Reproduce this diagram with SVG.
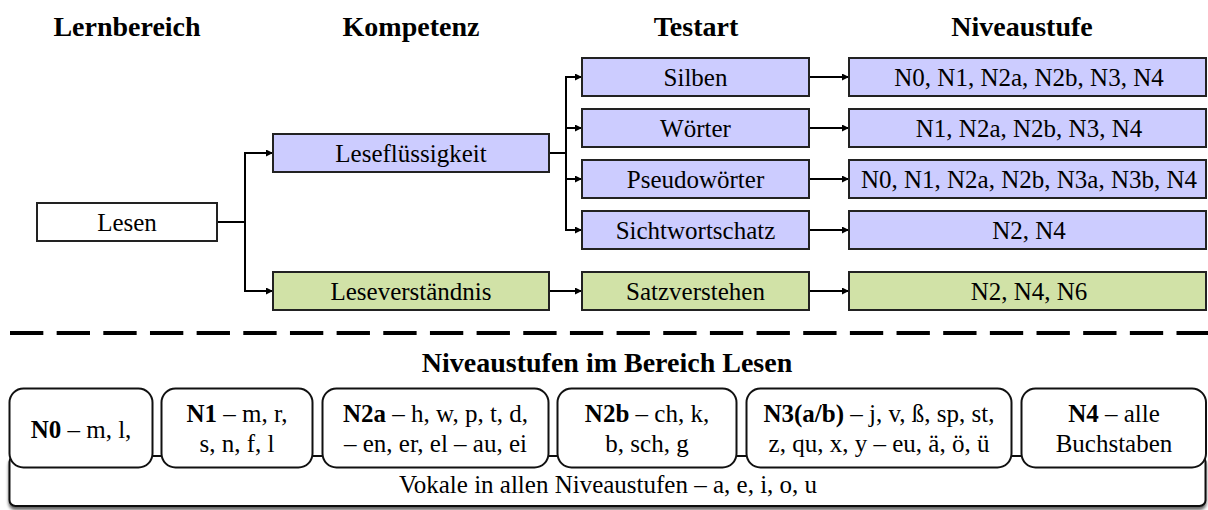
<svg xmlns="http://www.w3.org/2000/svg" width="1208" height="510" viewBox="0 0 1208 510">
<style>
text{font-family:'Liberation Serif','Times New Roman',serif}
.hd{font-size:28px;font-weight:bold;fill:#000;text-anchor:middle}
.t{font-size:25px;fill:#000;text-anchor:middle}
.b{font-weight:bold}
.box{stroke:#222;stroke-width:2}
.w{fill:#fff}
.p{fill:#CCCCFF}
.g{fill:#D1E2A7}
.rb{fill:#fff;stroke:#111;stroke-width:2}
.cn{fill:none;stroke:#000;stroke-width:2}
</style>
<defs>
<marker id="ah" viewBox="0 0 10 10" refX="10" refY="5" markerWidth="8" markerHeight="7" markerUnits="userSpaceOnUse" orient="auto">
<path d="M0,0 L10,5 L0,10 z" fill="#000"/>
</marker>
<filter id="sh" x="-2%" y="-20%" width="104%" height="160%">
<feGaussianBlur in="SourceAlpha" stdDeviation="1.5"/>
<feOffset dx="0" dy="2.5" result="o"/>
<feComponentTransfer><feFuncA type="linear" slope="0.6"/></feComponentTransfer>
<feMerge><feMergeNode/><feMergeNode in="SourceGraphic"/></feMerge>
</filter>
</defs>
<rect width="1208" height="510" fill="#fff"/>
<g id="headers">
<text class="hd" x="127" y="36" font-family="Liberation Serif">Lernbereich</text>
<text class="hd" x="411" y="36" font-family="Liberation Serif">Kompetenz</text>
<text class="hd" x="696" y="36" font-family="Liberation Serif">Testart</text>
<text class="hd" x="1022" y="36" font-family="Liberation Serif">Niveaustufe</text>
</g>
<g id="connectors">
<polyline class="cn" points="217,222 245,222"/>
<polyline class="cn" points="245,222 245,153 273,153" marker-end="url(#ah)"/>
<polyline class="cn" points="245,222 245,291 273,291" marker-end="url(#ah)"/>
<polyline class="cn" points="549,153 566,153"/>
<polyline class="cn" points="566,153 566,77 582,77" marker-end="url(#ah)"/>
<polyline class="cn" points="566,153 566,128 582,128" marker-end="url(#ah)"/>
<polyline class="cn" points="566,153 566,179 582,179" marker-end="url(#ah)"/>
<polyline class="cn" points="566,153 566,230 582,230" marker-end="url(#ah)"/>
<polyline class="cn" points="549,291 582,291" marker-end="url(#ah)"/>
<polyline class="cn" points="809,77 849,77" marker-end="url(#ah)"/>
<polyline class="cn" points="809,128 849,128" marker-end="url(#ah)"/>
<polyline class="cn" points="809,179 849,179" marker-end="url(#ah)"/>
<polyline class="cn" points="809,230 849,230" marker-end="url(#ah)"/>
<polyline class="cn" points="809,291 849,291" marker-end="url(#ah)"/>
</g>
<g id="lesen"><rect class="box w" x="37" y="203" width="180" height="38"/><text class="t" font-family="Liberation Serif" x="127" y="230.5">Lesen</text></g>
<g id="lesefluessigkeit"><rect class="box p" x="273" y="134" width="276" height="38"/><text class="t" font-family="Liberation Serif" x="411" y="161.5">Leseflüssigkeit</text></g>
<g id="leseverstaendnis"><rect class="box g" x="273" y="272" width="276" height="38"/><text class="t" font-family="Liberation Serif" x="411" y="299.5">Leseverständnis</text></g>
<g id="silben"><rect class="box p" x="582" y="58" width="227" height="38"/><text class="t" font-family="Liberation Serif" x="695.5" y="85.5">Silben</text></g>
<g id="woerter"><rect class="box p" x="582" y="109" width="227" height="38"/><text class="t" font-family="Liberation Serif" x="695.5" y="136.5">Wörter</text></g>
<g id="pseudowoerter"><rect class="box p" x="582" y="160" width="227" height="38"/><text class="t" font-family="Liberation Serif" x="695.5" y="187.5">Pseudowörter</text></g>
<g id="sichtwortschatz"><rect class="box p" x="582" y="211" width="227" height="38"/><text class="t" font-family="Liberation Serif" x="695.5" y="238.5">Sichtwortschatz</text></g>
<g id="satzverstehen"><rect class="box g" x="582" y="272" width="227" height="38"/><text class="t" font-family="Liberation Serif" x="695.5" y="299.5">Satzverstehen</text></g>
<g id="niv-silben"><rect class="box p" x="849" y="58" width="357" height="38"/><text class="t" font-family="Liberation Serif" x="1029" y="85.5">N0, N1, N2a, N2b, N3, N4</text></g>
<g id="niv-woerter"><rect class="box p" x="849" y="109" width="357" height="38"/><text class="t" font-family="Liberation Serif" x="1029" y="136.5">N1, N2a, N2b, N3, N4</text></g>
<g id="niv-pseudo"><rect class="box p" x="849" y="160" width="357" height="38"/><text class="t" font-family="Liberation Serif" x="1029" y="187.5">N0, N1, N2a, N2b, N3a, N3b, N4</text></g>
<g id="niv-sicht"><rect class="box p" x="849" y="211" width="357" height="38"/><text class="t" font-family="Liberation Serif" x="1029" y="238.5">N2, N4</text></g>
<g id="niv-satz"><rect class="box g" x="849" y="272" width="357" height="38"/><text class="t" font-family="Liberation Serif" x="1029" y="299.5">N2, N4, N6</text></g>
<line id="divider" x1="10" y1="333" x2="1208" y2="333" stroke="#000" stroke-width="4" stroke-dasharray="33.33 13.33"/>
<text class="hd" font-family="Liberation Serif" x="607" y="372">Niveaustufen im Bereich Lesen</text>
<g id="vokale"><rect class="rb" x="9.5" y="456" width="1196" height="50" rx="6" filter="url(#sh)"/><text class="t" font-family="Liberation Serif" x="608" y="493">Vokale in allen Niveaustufen – a, e, i, o, u</text></g>
<g id="n0"><rect class="rb" x="9.5" y="388.5" width="143" height="79" rx="14"/><text class="t" font-family="Liberation Serif" x="81" y="438"><tspan class="b">N0</tspan> – m, l,</text></g>
<g id="n1"><rect class="rb" x="161.5" y="388.5" width="151" height="79" rx="14"/><text class="t" font-family="Liberation Serif" x="237" y="421.5"><tspan class="b">N1</tspan> – m, r,</text><text class="t" font-family="Liberation Serif" x="237" y="451.5">s, n, f, l</text></g>
<g id="n2a"><rect class="rb" x="322.5" y="388.5" width="226" height="79" rx="14"/><text class="t" font-family="Liberation Serif" x="435.5" y="421.5"><tspan class="b">N2a</tspan> – h, w, p, t, d,</text><text class="t" font-family="Liberation Serif" x="435.5" y="451.5">– en, er, el – au, ei</text></g>
<g id="n2b"><rect class="rb" x="557.5" y="388.5" width="179" height="79" rx="14"/><text class="t" font-family="Liberation Serif" x="647" y="421.5"><tspan class="b">N2b</tspan> – ch, k,</text><text class="t" font-family="Liberation Serif" x="647" y="451.5">b, sch, g</text></g>
<g id="n3"><rect class="rb" x="746.5" y="388.5" width="265" height="79" rx="14"/><text class="t" font-family="Liberation Serif" x="879" y="421.5"><tspan class="b">N3(a/b)</tspan> – j, v, ß, sp, st,</text><text class="t" font-family="Liberation Serif" x="879" y="451.5">z, qu, x, y – eu, ä, ö, ü</text></g>
<g id="n4"><rect class="rb" x="1021.5" y="388.5" width="184.5" height="79" rx="14"/><text class="t" font-family="Liberation Serif" x="1114" y="421.5"><tspan class="b">N4</tspan> – alle</text><text class="t" font-family="Liberation Serif" x="1114" y="451.5">Buchstaben</text></g>
</svg>
